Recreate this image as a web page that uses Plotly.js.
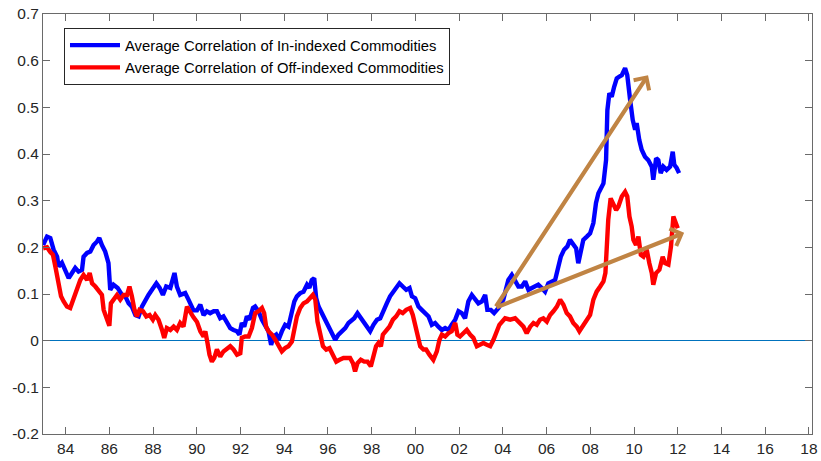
<!DOCTYPE html>
<html><head><meta charset="utf-8">
<script src="https://cdn.plot.ly/plotly-3.0.1.min.js"></script>
<style>html,body{margin:0;padding:0;background:#fff}#chart{width:821px;height:461px}</style>
</head><body><div id="chart"></div>
<script>
const inYears=[1982.97,1983.15,1983.30,1983.45,1983.61,1983.68,1983.83,1983.99,1984.14,1984.29,1984.44,1984.59,1984.75,1984.82,1984.98,1985.13,1985.28,1985.43,1985.54,1985.66,1985.81,1985.96,1986.04,1986.19,1986.38,1986.58,1986.73,1986.88,1987.03,1987.19,1987.34,1987.49,1987.64,1987.79,1987.95,1988.15,1988.30,1988.45,1988.60,1988.79,1988.98,1989.09,1989.24,1989.47,1989.62,1989.85,1990.01,1990.16,1990.31,1990.46,1990.61,1990.77,1990.92,1991.07,1991.22,1991.38,1991.53,1991.68,1991.84,1991.95,1992.06,1992.17,1992.29,1992.41,1992.57,1992.67,1992.82,1992.98,1993.13,1993.28,1993.40,1993.51,1993.63,1993.74,1993.89,1994.04,1994.19,1994.35,1994.46,1994.58,1994.73,1994.88,1995.04,1995.15,1995.26,1995.37,1995.46,1995.57,1995.72,1995.87,1996.02,1996.18,1996.33,1996.48,1996.64,1996.79,1996.94,1997.01,1997.20,1997.35,1997.50,1997.66,1997.81,1997.93,1998.08,1998.24,1998.39,1998.54,1998.69,1998.84,1998.99,1999.15,1999.27,1999.42,1999.58,1999.73,1999.84,1999.99,2000.14,2000.29,2000.44,2000.60,2000.75,2000.90,2001.05,2001.21,2001.36,2001.51,2001.66,2001.82,2001.97,2002.12,2002.27,2002.42,2002.58,2002.73,2002.88,2003.04,2003.19,2003.29,2003.45,2003.60,2003.72,2003.80,2004.02,2004.25,2004.41,2004.56,2004.71,2004.87,2005.02,2005.17,2005.32,2005.47,2005.62,2005.78,2005.93,2006.08,2006.24,2006.39,2006.54,2006.65,2006.80,2006.95,2007.07,2007.22,2007.35,2007.45,2007.56,2007.68,2007.84,2007.99,2008.14,2008.26,2008.37,2008.49,2008.60,2008.72,2008.78,2008.87,2008.98,2009.09,2009.21,2009.33,2009.44,2009.59,2009.69,2009.82,2009.94,2010.05,2010.12,2010.24,2010.35,2010.50,2010.65,2010.81,2010.88,2011.01,2011.11,2011.22,2011.34,2011.49,2011.65,2011.77,2011.84,2011.95,2012.06];
const inCorr=[0.205,0.223,0.22,0.195,0.18,0.159,0.167,0.152,0.134,0.145,0.156,0.148,0.152,0.18,0.188,0.191,0.205,0.212,0.22,0.205,0.191,0.166,0.109,0.12,0.113,0.098,0.095,0.08,0.073,0.055,0.052,0.073,0.088,0.098,0.109,0.123,0.113,0.098,0.116,0.113,0.145,0.116,0.098,0.102,0.088,0.065,0.065,0.077,0.055,0.063,0.059,0.063,0.063,0.048,0.052,0.038,0.027,0.023,0.02,0.013,0.038,0.03,0.052,0.045,0.07,0.073,0.063,0.045,0.034,0.02,-0.009,0.009,0.013,0.002,0.02,0.034,0.03,0.059,0.084,0.095,0.102,0.105,0.12,0.113,0.13,0.134,0.091,0.073,0.059,0.045,0.03,0.013,0.002,0.013,0.02,0.027,0.038,0.041,0.048,0.059,0.048,0.038,0.027,0.02,0.034,0.045,0.048,0.066,0.08,0.095,0.105,0.116,0.123,0.116,0.109,0.113,0.095,0.091,0.073,0.066,0.059,0.052,0.034,0.038,0.03,0.023,0.027,0.023,0.034,0.045,0.063,0.059,0.048,0.084,0.098,0.088,0.08,0.084,0.098,0.066,0.066,0.059,0.066,0.07,0.088,0.13,0.141,0.13,0.116,0.116,0.127,0.109,0.113,0.116,0.12,0.113,0.105,0.123,0.127,0.13,0.159,0.18,0.195,0.202,0.216,0.205,0.198,0.166,0.188,0.216,0.223,0.23,0.252,0.295,0.316,0.327,0.337,0.387,0.494,0.53,0.523,0.544,0.562,0.566,0.569,0.584,0.569,0.516,0.473,0.452,0.466,0.43,0.409,0.394,0.387,0.373,0.345,0.391,0.387,0.359,0.373,0.366,0.373,0.405,0.377,0.37,0.359];
const offYears=[1982.97,1983.15,1983.30,1983.42,1983.53,1983.63,1983.72,1983.79,1983.91,1984.06,1984.21,1984.36,1984.52,1984.67,1984.82,1984.98,1985.10,1985.21,1985.36,1985.51,1985.66,1985.74,1985.89,1986.00,1986.07,1986.19,1986.35,1986.50,1986.65,1986.81,1986.92,1987.03,1987.15,1987.26,1987.38,1987.54,1987.69,1987.84,1987.99,1988.10,1988.25,1988.41,1988.51,1988.63,1988.79,1988.94,1989.09,1989.24,1989.39,1989.55,1989.70,1989.85,1990.01,1990.16,1990.31,1990.39,1990.49,1990.58,1990.69,1990.80,1990.92,1991.07,1991.22,1991.38,1991.53,1991.68,1991.84,1991.99,1992.06,1992.21,1992.37,1992.52,1992.67,1992.82,1992.98,1993.08,1993.17,1993.28,1993.44,1993.59,1993.74,1993.89,1994.04,1994.19,1994.35,1994.46,1994.58,1994.73,1994.88,1995.04,1995.19,1995.31,1995.42,1995.52,1995.64,1995.77,1995.92,1996.07,1996.22,1996.38,1996.53,1996.71,1996.89,1997.01,1997.14,1997.24,1997.35,1997.50,1997.66,1997.81,1997.96,1998.08,1998.20,1998.31,1998.42,1998.51,1998.66,1998.81,1998.97,1999.12,1999.27,1999.42,1999.58,1999.76,1999.88,1999.99,2000.09,2000.22,2000.37,2000.49,2000.64,2000.82,2000.98,2001.10,2001.21,2001.36,2001.51,2001.66,2001.82,2001.92,2002.04,2002.20,2002.35,2002.50,2002.65,2002.81,2002.96,2003.11,2003.27,2003.42,2003.57,2003.69,2003.84,2004.10,2004.33,2004.56,2004.79,2004.94,2005.09,2005.25,2005.40,2005.55,2005.70,2005.85,2006.01,2006.16,2006.31,2006.47,2006.62,2006.77,2006.92,2007.07,2007.22,2007.38,2007.50,2007.65,2007.84,2007.99,2008.14,2008.29,2008.45,2008.60,2008.69,2008.75,2008.82,2008.93,2009.05,2009.18,2009.28,2009.44,2009.59,2009.69,2009.79,2009.89,2009.97,2010.09,2010.20,2010.31,2010.43,2010.58,2010.70,2010.81,2010.88,2011.01,2011.16,2011.31,2011.42,2011.57,2011.69,2011.80,2011.91,2012.00];
const offCorr=[0.198,0.2,0.19,0.184,0.159,0.137,0.116,0.095,0.084,0.073,0.07,0.088,0.109,0.13,0.141,0.13,0.145,0.123,0.116,0.105,0.098,0.066,0.048,0.032,0.08,0.088,0.098,0.088,0.098,0.098,0.116,0.095,0.066,0.052,0.066,0.063,0.052,0.055,0.045,0.055,0.045,0.023,0.006,0.027,0.023,0.03,0.023,0.038,0.03,0.073,0.06,0.05,0.04,0.02,0.009,0.02,-0.005,-0.03,-0.045,-0.037,-0.019,-0.034,-0.023,-0.016,-0.012,-0.019,-0.03,-0.027,0.006,0.009,0.009,0.027,0.059,0.063,0.07,0.059,0.03,0.02,0.013,0.002,-0.012,-0.023,-0.016,-0.012,-0.002,0.023,0.052,0.07,0.08,0.084,0.091,0.098,0.088,0.041,0.016,-0.012,-0.019,-0.016,-0.03,-0.045,-0.041,-0.037,-0.037,-0.037,-0.048,-0.066,-0.048,-0.041,-0.045,-0.045,-0.055,-0.034,-0.012,-0.005,-0.012,0.013,0.02,0.03,0.045,0.052,0.063,0.059,0.066,0.07,0.055,0.034,0.009,-0.012,-0.019,-0.019,-0.03,-0.041,-0.023,0.002,0.013,0.009,0.016,0.02,0.038,0.013,0.009,0.016,0.023,0.013,0.006,-0.012,-0.009,-0.005,-0.009,-0.012,0.002,0.016,0.034,0.048,0.045,0.048,0.038,0.03,0.016,0.03,0.038,0.034,0.045,0.048,0.041,0.055,0.063,0.073,0.088,0.077,0.059,0.052,0.038,0.03,0.02,0.03,0.041,0.055,0.088,0.105,0.116,0.127,0.145,0.202,0.259,0.305,0.295,0.28,0.287,0.309,0.319,0.309,0.266,0.245,0.216,0.205,0.223,0.184,0.18,0.195,0.166,0.145,0.12,0.145,0.152,0.18,0.166,0.163,0.202,0.266,0.252,0.241];
const xTickYears=[1984,1986,1988,1990,1992,1994,1996,1998,2000,2002,2004,2006,2008,2010,2012,2014,2016,2018];
const xTickLabels=['84','86','88','90','92','94','96','98','00','02','04','06','08','10','12','14','16','18'];
const yTickValues=[-0.2,-0.1,0,0.1,0.2,0.3,0.4,0.5,0.6,0.7];
const yTickLabels=['-0.2','-0.1','0','0.1','0.2','0.3','0.4','0.5','0.6','0.7'];
const seriesNames=['Average Correlation of In-indexed Commodities','Average Correlation of Off-indexed Commodities'];
const arrowTail=[2003.64,0.070];
const arrowHeads=[[2010.64,0.569],[2012.29,0.231]];

const FONT="'Liberation Sans', Arial, Helvetica, sans-serif";
const axisCol='#6a6a6a';
const traces=[
  {x:inYears,y:inCorr,name:seriesNames[0],type:'scatter',mode:'lines',line:{color:'#0000ff',width:4.4}},
  {x:offYears,y:offCorr,name:seriesNames[1],type:'scatter',mode:'lines',line:{color:'#ff0000',width:4.4}}
];
const arrowColor='rgb(192,132,68)';
const annotations=arrowHeads.map(h=>({x:h[0],y:h[1],xref:'x',yref:'y',ax:arrowTail[0],ay:arrowTail[1],axref:'x',ayref:'y',text:'',showarrow:true,arrowhead:4,arrowsize:0.85,arrowwidth:4.2,arrowcolor:arrowColor,standoff:0,startstandoff:0}));
const layout={
  width:821,height:461,
  margin:{l:43,r:9,t:14,b:27,pad:0},
  paper_bgcolor:'#fff',plot_bgcolor:'#fff',
  font:{family:FONT,color:'#262626'},
  showlegend:true,
  legend:{x:0.0273,y:0.9667,xanchor:'left',yanchor:'top',bgcolor:'#fff',bordercolor:'#262626',borderwidth:1,
    font:{family:FONT,size:14.8,color:'#000'},itemwidth:50,tracegroupgap:0},
  xaxis:{range:[1982.965,2018.14],tickvals:xTickYears,ticktext:xTickLabels,ticks:'inside',ticklen:7,tickwidth:1,tickcolor:axisCol,
    showline:true,linecolor:axisCol,linewidth:1,mirror:'ticks',showgrid:false,zeroline:false,
    tickfont:{family:FONT,size:15.5,color:'#262626'}},
  yaxis:{range:[-0.2,0.7],tickvals:yTickValues,ticktext:yTickLabels,ticks:'inside',ticklen:7,tickwidth:1,tickcolor:axisCol,
    showline:true,linecolor:axisCol,linewidth:1,mirror:'ticks',showgrid:false,
    zeroline:true,zerolinecolor:'#0072BD',zerolinewidth:1,
    tickfont:{family:FONT,size:15.5,color:'#262626'}},
  annotations:annotations
};
Plotly.newPlot('chart',traces,layout,{staticPlot:true,displayModeBar:false});
</script>
</body></html>
